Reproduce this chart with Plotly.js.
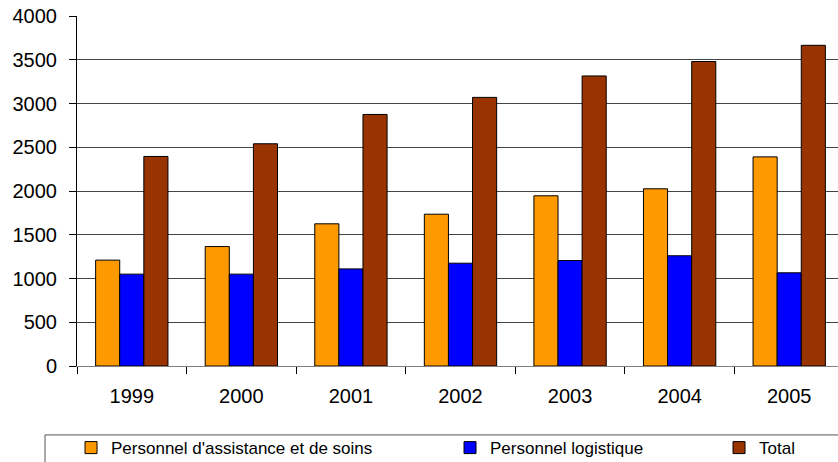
<!DOCTYPE html>
<html>
<head>
<meta charset="utf-8">
<script src="https://cdn.plot.ly/plotly-3.0.1.min.js"></script>
<style>
html,body{margin:0;padding:0;overflow:hidden;background:#fff;}
#chart{width:846px;height:462px;}
</style>
</head>
<body>
<div id="chart"></div>
<script>
const years = ['1999','2000','2001','2002','2003','2004','2005'];
const assistance = [1210, 1365, 1625, 1735, 1945, 2025, 2390];
const logistique = [1050, 1050, 1110, 1175, 1205, 1260, 1065];
const total = [2395, 2540, 2875, 3070, 3315, 3480, 3665];

const seriesNames = ["Personnel d'assistance et de soins", 'Personnel logistique', 'Total'];
const seriesColors = ['#FF9900', '#0000FF', '#993300'];
const seriesValues = [assistance, logistique, total];
const legendWidths = [334, 224, 40];

const traces = seriesValues.map((vals, i) => ({
  type: 'bar',
  x: years,
  y: vals,
  name: seriesNames[i],
  marker: {color: seriesColors[i], line: {color: '#000', width: 1}},
  legendwidth: legendWidths[i],
  hoverinfo: 'skip'
}));

const layout = {
  width: 846,
  height: 462,
  margin: {l: 77, r: 2, t: 16, b: 96, autoexpand: false},
  paper_bgcolor: '#fff',
  plot_bgcolor: '#fff',
  font: {family: 'Liberation Sans, Arial, sans-serif', color: '#000', size: 20},
  barmode: 'group',
  bargap: 0.34,
  bargroupgap: 0,
  showlegend: true,
  legend: {
    orientation: 'h',
    x: -0.0078, xanchor: 'left',
    y: -0.183, yanchor: 'top',
    bgcolor: 'rgba(0,0,0,0)',
    borderwidth: 0,
    font: {size: 17, family: 'Liberation Sans, Arial, sans-serif'},
    traceorder: 'normal'
  },
  shapes: [{
    type: 'rect', xref: 'paper', yref: 'paper',
    x0: -0.0417, x1: 1.05, y0: -0.197, y1: -0.35,
    line: {color: '#555', width: 1}, fillcolor: 'rgba(0,0,0,0)', layer: 'below'
  }],
  xaxis: {
    type: 'category',
    showgrid: false,
    showline: true, linecolor: '#808080', linewidth: 1,
    ticks: 'outside', tickson: 'boundaries', ticklen: 7, tickcolor: '#000',
    tickfont: {size: 20},
    ticklabelstandoff: 12,
    zeroline: false
  },
  yaxis: {
    range: [0, 4000], dtick: 500,
    showgrid: true, gridcolor: '#444', gridwidth: 1,
    showline: true, linecolor: '#000', linewidth: 1,
    ticks: 'outside', ticklen: 7, tickcolor: '#000',
    tickfont: {size: 20},
    ticklabelstandoff: 8,
    zeroline: false
  }
};

Plotly.newPlot('chart', traces, layout, {displayModeBar: false, staticPlot: true});
</script>
</body>
</html>
